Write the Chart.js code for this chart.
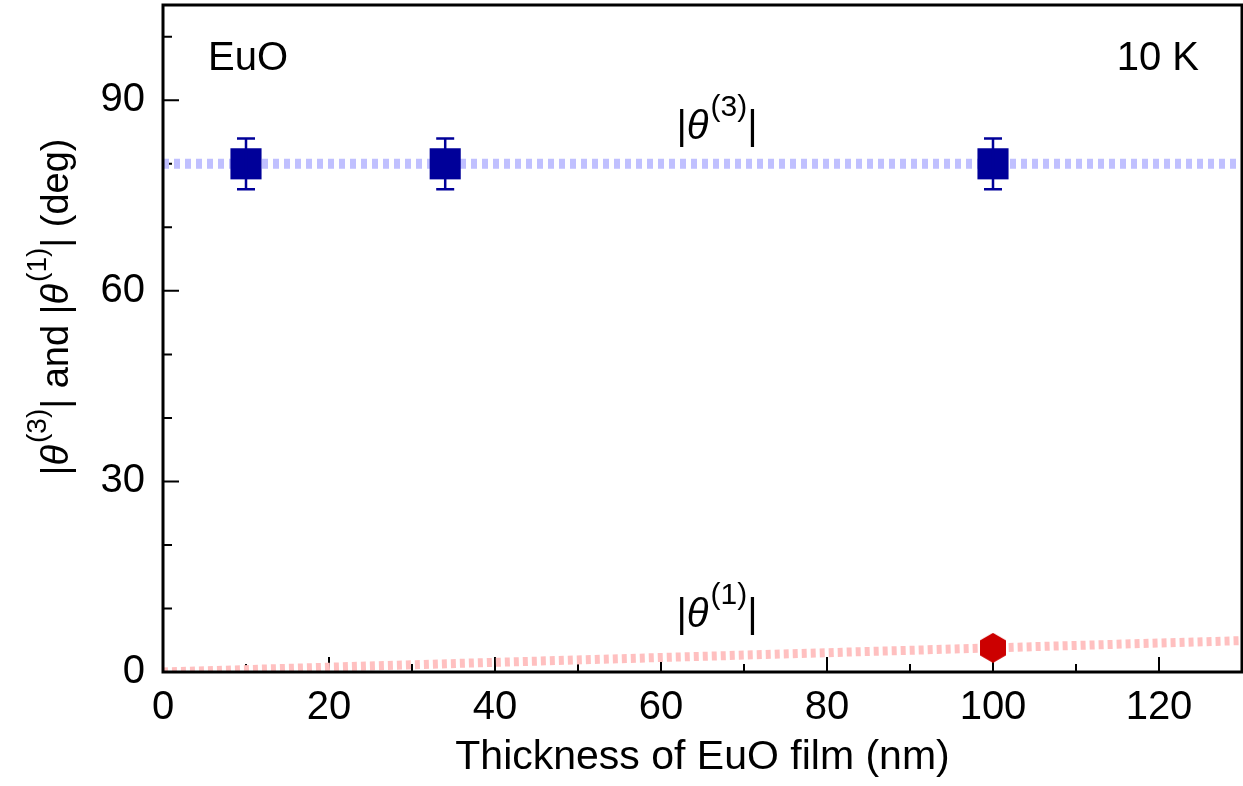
<!DOCTYPE html>
<html>
<head>
<meta charset="utf-8">
<script src="https://cdn.jsdelivr.net/npm/chart.js@4/dist/chart.umd.min.js"></script>
<style>
  html, body { margin: 0; padding: 0; background: #fff; }
  #wrap { width: 1243px; height: 786px; }
</style>
</head>
<body>
<div id="wrap"><canvas id="chart"></canvas></div>
<script>
// measured values
const thickness = [10, 34, 100]
const theta3 = [80, 80, 80]
const theta3Err = [4, 4, 4]
const theta1Thickness = [100]
const theta1 = [3.8]

// guide lines through the data
const fitX = [0, 130]
const theta3Fit = [80, 80]
const theta1Fit = [0, 4.94]

// ticks
const xTicks = [0, 20, 40, 60, 80, 100, 120]
const xMinorTicks = [10, 30, 50, 70, 90, 110]
const yTicks = [0, 30, 60, 90]
const yMinorTicks = [10, 20, 40, 50, 70, 80, 100]

const FONT = "'Liberation Sans', Arial, sans-serif"
const BLUE = "#000099"
const RED = "#cc0000"

function hexagonImage(size, color) {
  const c = document.createElement("canvas")
  const w = Math.round(size * 0.87), h = size
  c.width = w
  c.height = h
  const g = c.getContext("2d")
  g.fillStyle = color
  g.beginPath()
  for (let i = 0; i < 6; i++) {
    const a = Math.PI / 2 + i * Math.PI / 3
    const px = w / 2 + Math.cos(a) * h / 2
    const py = h / 2 - Math.sin(a) * h / 2
    if (i === 0) g.moveTo(px, py)
    else g.lineTo(px, py)
  }
  g.closePath()
  g.fill()
  return c
}

// parts: [text, kind] where kind = "n" normal, "i" italic theta, "s" superscript
function drawRich(ctx, parts, x, y, size, align) {
  const supSize = Math.round(size * 0.74)
  const fontFor = (k) => k === "s" ? `${supSize}px ${FONT}` : k === "i" ? `italic ${size}px ${FONT}` : `${size}px ${FONT}`
  let total = 0
  parts.forEach(([t, k]) => { ctx.font = fontFor(k); total += ctx.measureText(t).width })
  let cx = align === "center" ? x - total / 2 : align === "right" ? x - total : x
  ctx.textAlign = "left"
  ctx.textBaseline = "alphabetic"
  ctx.fillStyle = "#000"
  parts.forEach(([t, k]) => {
    ctx.font = fontFor(k)
    ctx.fillText(t, cx, k === "s" ? y - size * 0.58 : y)
    cx += ctx.measureText(t).width + (k === "i" ? 2 : 0)
  })
}

function noLabelPadding(s) {
  s.paddingLeft = 0
  s.paddingRight = 0
  s.paddingTop = 0
  s.paddingBottom = 0
}

const decorations = {
  id: "decorations",
  beforeDatasetsDraw(chart) {
    const { ctx, chartArea: a } = chart
    const xs = chart.scales.x, ys = chart.scales.y
    ctx.save()
    ctx.strokeStyle = "#000"
    ctx.lineWidth = 2
    ctx.beginPath()
    xTicks.forEach(v => { const p = xs.getPixelForValue(v); ctx.moveTo(p, a.bottom); ctx.lineTo(p, a.bottom - 15) })
    xMinorTicks.forEach(v => { const p = xs.getPixelForValue(v); ctx.moveTo(p, a.bottom); ctx.lineTo(p, a.bottom - 8) })
    yTicks.forEach(v => { const p = ys.getPixelForValue(v); ctx.moveTo(a.left, p); ctx.lineTo(a.left + 16, p) })
    yMinorTicks.forEach(v => { const p = ys.getPixelForValue(v); ctx.moveTo(a.left, p); ctx.lineTo(a.left + 9, p) })
    ctx.stroke()
    ctx.restore()
  },
  afterDatasetsDraw(chart) {
    const { ctx, chartArea: a } = chart
    const xs = chart.scales.x, ys = chart.scales.y
    ctx.save()
    // error bars
    ctx.strokeStyle = BLUE
    ctx.lineWidth = 2.5
    ctx.beginPath()
    thickness.forEach((t, i) => {
      const px = xs.getPixelForValue(t)
      const top = ys.getPixelForValue(theta3[i] + theta3Err[i])
      const bot = ys.getPixelForValue(theta3[i] - theta3Err[i])
      ctx.moveTo(px, top); ctx.lineTo(px, bot)
      ctx.moveTo(px - 9, top); ctx.lineTo(px + 9, top)
      ctx.moveTo(px - 9, bot); ctx.lineTo(px + 9, bot)
    })
    ctx.stroke()
    // frame
    ctx.strokeStyle = "#000"
    ctx.lineWidth = 3
    ctx.strokeRect(a.left, a.top, a.right - a.left, a.bottom - a.top)

    // texts
    ctx.font = `40px ${FONT}`
    ctx.fillStyle = "#000"
    ctx.textBaseline = "alphabetic"
    ctx.textAlign = "left"
    ctx.fillText("EuO", 208, 70)
    ctx.textAlign = "right"
    ctx.fillText("10 K", 1199, 70)

    drawRich(ctx, [["|", "n"], ["θ", "i"], ["(3)", "s"], ["|", "n"]], 716, 139, 40, "center")
    drawRich(ctx, [["|", "n"], ["θ", "i"], ["(1)", "s"], ["|", "n"]], 716, 627, 40, "center")

    // y title
    ctx.translate(68, 309)
    ctx.rotate(-Math.PI / 2)
    drawRich(ctx, [["|", "n"], ["θ", "i"], ["(3)", "s"], ["| and |", "n"], ["θ", "i"], ["(1)", "s"], ["| (deg)", "n"]], 0, 0, 38, "center")
    ctx.restore()
  }
}

const ctx = document.getElementById("chart").getContext("2d")
new Chart(ctx, {
  type: "scatter",
  data: {
    datasets: [
      {
        label: "theta3 guide",
        data: fitX.map((x, i) => ({ x: x, y: theta3Fit[i] })),
        showLine: true,
        borderColor: "#c0c0ff",
        borderWidth: 10,
        borderDash: [6, 5],
        pointRadius: 0,
        order: 3
      },
      {
        label: "theta1 guide",
        data: fitX.map((x, i) => ({ x: x, y: theta1Fit[i] })),
        showLine: true,
        borderColor: "#ffc0c0",
        borderWidth: 9,
        borderDash: [5, 4],
        pointRadius: 0,
        order: 3
      },
      {
        label: "|θ(3)|",
        data: thickness.map((x, i) => ({ x: x, y: theta3[i] })),
        pointStyle: "rect",
        pointRadius: 22,
        backgroundColor: BLUE,
        borderColor: BLUE,
        borderWidth: 0,
        order: 1
      },
      {
        label: "|θ(1)|",
        data: theta1Thickness.map((x, i) => ({ x: x, y: theta1[i] })),
        pointStyle: hexagonImage(30, RED),
        backgroundColor: RED,
        borderColor: RED,
        order: 1
      }
    ]
  },
  options: {
    responsive: true,
    maintainAspectRatio: false,
    animation: false,
    events: [],
    layout: { autoPadding: false, padding: { top: 5, right: 1, left: 0, bottom: 0 } },
    plugins: {
      legend: { display: false },
      tooltip: { enabled: false }
    },
    scales: {
      x: {
        type: "linear",
        min: 0,
        max: 130,
        grid: { display: false },
        border: { display: false },
        afterBuildTicks: (s) => { s.ticks = xTicks.map(v => ({ value: v })) },
        afterFit: (s) => { s.height = 114; noLabelPadding(s) },
        ticks: { color: "#000", font: { family: FONT, size: 40 }, padding: 4, maxRotation: 0 },
        title: {
          display: true,
          text: "Thickness of EuO film (nm)",
          color: "#000",
          font: { family: FONT, size: 41 },
          padding: { top: 0, bottom: 4 }
        }
      },
      y: {
        min: 0,
        max: 105,
        grid: { display: false },
        border: { display: false },
        afterBuildTicks: (s) => { s.ticks = yTicks.map(v => ({ value: v })) },
        afterFit: (s) => { s.width = 163; noLabelPadding(s) },
        ticks: { color: "#000", font: { family: FONT, size: 40 }, padding: 10 }
      }
    }
  },
  plugins: [decorations]
})
</script>
</body>
</html>
